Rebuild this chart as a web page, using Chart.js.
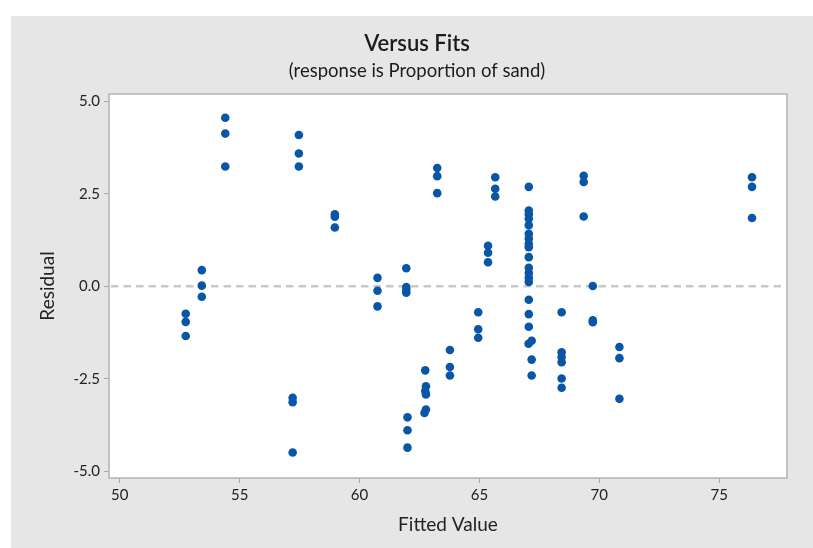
<!DOCTYPE html>
<html>
<head>
<meta charset="utf-8">
<title>Versus Fits</title>
<script src="https://cdn.jsdelivr.net/npm/chart.js@4.4.1/dist/chart.umd.min.js"></script>
<style>
  html, body { margin: 0; padding: 0; background: #ffffff; }
  #wrap { width: 813px; height: 548px; position: relative; }
</style>
</head>
<body>
<div id="wrap"><canvas id="chart" width="813" height="548"></canvas></div>
<script>
// Residuals versus fitted values (response: Proportion of sand)
const fittedValues = [
  52.75, 52.75, 52.75,
  53.42, 53.42, 53.42,
  54.40, 54.40, 54.40,
  57.21, 57.21, 57.21,
  57.47, 57.47, 57.47,
  58.97, 58.97, 58.97,
  60.75, 60.75, 60.75,
  61.95, 61.95, 61.95, 61.95,
  62.00, 62.00, 62.00,
  62.74, 62.77, 62.74, 62.77, 62.77, 62.71,
  63.24, 63.24, 63.24,
  63.77, 63.77, 63.77,
  64.95, 64.95, 64.95,
  65.36, 65.36, 65.36,
  65.66, 65.66, 65.66,
  67.06, 67.06, 67.06, 67.06, 67.06, 67.06, 67.06, 67.06, 67.06,
  67.06, 67.06, 67.06, 67.06, 67.06, 67.06, 67.06, 67.06, 67.05,
  67.18, 67.18, 67.18,
  68.43, 68.43, 68.43, 68.43, 68.43, 68.43,
  69.35, 69.35, 69.35,
  69.73, 69.73, 69.73,
  70.84, 70.84, 70.84,
  76.37, 76.37, 76.37
];
const residuals = [
  -0.74, -0.96, -1.34,
  0.44, 0.02, -0.28,
  4.56, 4.13, 3.24,
  -3.01, -3.13, -4.49,
  4.09, 3.59, 3.24,
  1.95, 1.88, 1.59,
  0.23, -0.12, -0.54,
  0.49, -0.02, -0.09, -0.17,
  -3.54, -3.89, -4.36,
  -2.27, -2.70, -2.83, -2.92, -3.33, -3.42,
  3.20, 2.98, 2.52,
  -1.72, -2.18, -2.41,
  -0.70, -1.16, -1.39,
  1.10, 0.91, 0.65,
  2.95, 2.64, 2.43,
  2.69, 2.05, 1.95, 1.83, 1.65, 1.42, 1.29, 1.15, 1.06,
  0.79, 0.50, 0.36, 0.23, 0.12, -0.36, -0.75, -1.09, -1.55,
  -1.47, -1.98, -2.41,
  -0.70, -1.78, -1.91, -2.05, -2.49, -2.74,
  2.99, 2.82, 1.89,
  0.01, -0.92, -0.97,
  -1.64, -1.94, -3.04,
  2.95, 2.69, 1.85
];

const xTickValues = [50, 55, 60, 65, 70, 75];
const xTickLabels = ['50', '55', '60', '65', '70', '75'];
const yTickValues = [-5, -2.5, 0, 2.5, 5];
const yTickLabels = ['-5.0', '-2.5', '0.0', '2.5', '5.0'];
const referenceResidual = 0;

const FONT = "Lato, 'Open Sans', sans-serif";
const TEXT = '#222222';
const AXIS = '#a9a9a9';

const points = fittedValues.map((x, i) => ({ x: x, y: residuals[i] }));

// Gray graph panel, white data region, dashed reference line and frame
const panelPlugin = {
  id: 'panel',
  beforeDraw(chart) {
    const { ctx, width, height, chartArea: a } = chart;
    ctx.save();
    ctx.fillStyle = '#ffffff';
    ctx.fillRect(0, 0, width, height);
    ctx.fillStyle = '#e6e6e6';
    ctx.fillRect(11, 16, width - 11, height - 16);
    ctx.fillStyle = '#ffffff';
    ctx.fillRect(a.left, a.top, a.right - a.left, a.bottom - a.top);
    ctx.restore();
  },
  beforeDatasetsDraw(chart) {
    const { ctx, chartArea: a, scales } = chart;
    const y0 = scales.y.getPixelForValue(referenceResidual);
    ctx.save();
    ctx.strokeStyle = '#c9c9c9';
    ctx.lineWidth = 2.5;
    ctx.setLineDash([7.5, 5]);
    ctx.beginPath();
    ctx.moveTo(a.left + 2, y0);
    ctx.lineTo(a.right - 2, y0);
    ctx.stroke();
    ctx.setLineDash([]);
    ctx.strokeStyle = '#b3b3b3';
    ctx.lineWidth = 1.5;
    ctx.strokeRect(a.left, a.top, a.right - a.left, a.bottom - a.top);
    ctx.restore();
  }
};

new Chart(document.getElementById('chart'), {
  type: 'scatter',
  data: {
    datasets: [{
      label: 'Residual',
      data: points,
      backgroundColor: '#0a56a6',
      borderColor: '#0a56a6',
      borderWidth: 0,
      pointRadius: 4.3,
      pointHoverRadius: 4.3
    }]
  },
  options: {
    responsive: false,
    animation: false,
    devicePixelRatio: 1,
    layout: { padding: { left: 47, right: 26, top: 30, bottom: 0 } },
    plugins: {
      legend: { display: false },
      tooltip: { enabled: false },
      title: {
        display: true,
        text: 'Versus Fits',
        color: '#1c1c1c',
        font: { family: FONT, size: 22, weight: '600', lineHeight: 1.2 },
        padding: { top: 0.8, bottom: 0 }
      },
      subtitle: {
        display: true,
        text: '(response is Proportion of sand)',
        color: '#1c1c1c',
        font: { family: FONT, size: 18.5, weight: 'normal', lineHeight: 1.2 },
        padding: { top: 2.7, bottom: 11.9 }
      }
    },
    scales: {
      x: {
        type: 'linear',
        min: 49.55,
        max: 77.83,
        afterFit(s) { s.height = 70; },
        afterBuildTicks(s) { s.ticks = xTickValues.map(v => ({ value: v })); },
        ticks: {
          color: TEXT,
          font: { family: FONT, size: 15 },
          padding: 3,
          maxRotation: 0,
          callback: (v) => xTickLabels[xTickValues.indexOf(v)]
        },
        grid: { drawOnChartArea: false, drawTicks: true, tickLength: 5, color: AXIS, lineWidth: 1 },
        border: { display: false },
        title: {
          display: true,
          text: 'Fitted Value',
          color: TEXT,
          font: { family: FONT, size: 19, lineHeight: 1.2 },
          padding: { top: 4, bottom: 11.6 }
        }
      },
      y: {
        type: 'linear',
        min: -5.18,
        max: 5.2,
        afterFit(s) { s.width = 62; },
        afterBuildTicks(s) { s.ticks = yTickValues.map(v => ({ value: v })); },
        ticks: {
          color: TEXT,
          font: { family: FONT, size: 15 },
          padding: 4,
          callback: (v) => yTickLabels[yTickValues.indexOf(v)]
        },
        grid: { drawOnChartArea: false, drawTicks: true, tickLength: 5, color: AXIS, lineWidth: 1 },
        border: { display: false },
        title: {
          display: true,
          text: 'Residual',
          color: TEXT,
          font: { family: FONT, size: 19, lineHeight: 1.2 },
          padding: { top: -10.4, bottom: 0 }
        }
      }
    }
  },
  plugins: [panelPlugin]
});
</script>
</body>
</html>
